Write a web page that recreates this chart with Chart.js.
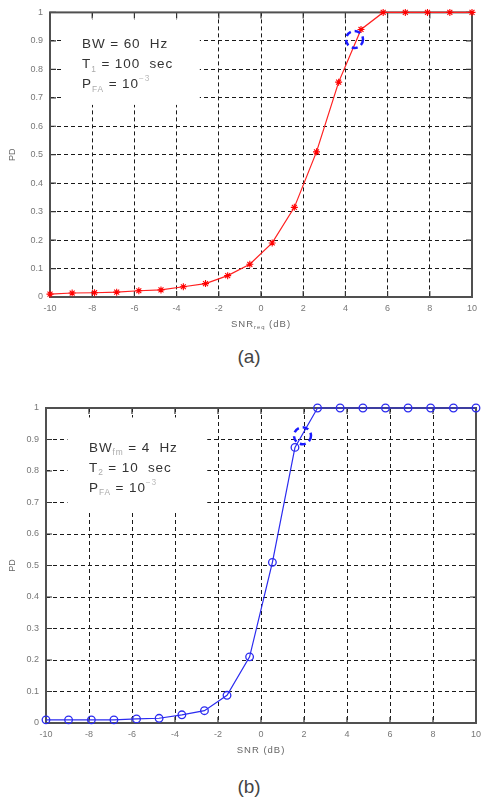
<!DOCTYPE html>
<html><head><meta charset="utf-8">
<script src="https://cdn.jsdelivr.net/npm/chart.js@4.4.0/dist/chart.umd.min.js"></script>
<style>
html,body{margin:0;padding:0;background:#fff;width:490px;height:799px;overflow:hidden;font-family:'Liberation Sans',Arial,sans-serif;}
.wrap{position:absolute;left:0;width:490px;}
#w1{top:0;height:340px}
#w2{top:395px;height:370px}
.cap{position:absolute;width:490px;left:4px;text-align:center;font-size:19px;line-height:22px;color:#444;}
</style></head><body>
<div class="wrap" id="w1"><canvas id="c1" width="490" height="340"></canvas></div>
<div class="wrap" id="w2"><canvas id="c2" width="490" height="370"></canvas></div>
<div class="cap" style="top:346px">(a)</div>
<div class="cap" style="top:776px">(b)</div>
<script>
// ---- data ----
const snrA = [-10, -8.95, -7.89, -6.84, -5.79, -4.74, -3.68, -2.63, -1.58, -0.53, 0.53, 1.58, 2.63, 3.68, 4.74, 5.79, 6.84, 7.89, 8.95, 10];
const pdA  = [0.01, 0.014, 0.015, 0.017, 0.022, 0.025, 0.036, 0.047, 0.075, 0.115, 0.19, 0.315, 0.51, 0.755, 0.94, 1, 1, 1, 1, 1];
const snrB = [-10, -8.95, -7.89, -6.84, -5.79, -4.74, -3.68, -2.63, -1.58, -0.53, 0.53, 1.58, 2.63, 3.68, 4.74, 5.79, 6.84, 7.89, 8.95, 10];
const pdB  = [0.01, 0.01, 0.01, 0.01, 0.013, 0.015, 0.026, 0.039, 0.088, 0.21, 0.51, 0.875, 1, 1, 1, 1, 1, 1, 1, 1];
const xTicks = [-10, -8, -6, -4, -2, 0, 2, 4, 6, 8, 10];
const yTicks = [0, 0.1, 0.2, 0.3, 0.4, 0.5, 0.6, 0.7, 0.8, 0.9, 1];
const markA = [4.43, 0.905];
const markB = [1.93, 0.912];
const boxA = [-9.43, -2.9, 0.675, 0.975];
const boxB = [-9.0, -2.5, 0.675, 0.97];
const noteAtA = [-8.48, 0.888];
const noteAtB = [-8.0, 0.873];
const noteA = [
  [['BW = 60  Hz','n']],
  [['T','n'],['1','sub'],[' = 100  sec','n']],
  [['P','n'],['FA','sub'],[' = 10','n'],['\u22123','sup']]
];
const noteB = [
  [['BW','n'],['fm','sub'],[' = 4  Hz','n']],
  [['T','n'],['2','sub'],[' = 10  sec','n']],
  [['P','n'],['FA','sub'],[' = 10','n'],['\u22123','sup']]
];
const xTitleA = [['SNR','n'],['req','sub'],[' (dB)','n']];
const xTitleB = [['SNR (dB)','n']];

const FAM = '"Liberation Sans", Arial, sans-serif';

function segW(ctx, segs, size, ls){
  let w=0;
  ctx.letterSpacing=ls+'px';
  segs.forEach(([t,k])=>{const fs=(k==='n')?size:size*0.62; ctx.font=fs+'px '+FAM; w+=ctx.measureText(t).width;});
  return w;
}
function rich(ctx, segs, x0, yc, size, color, subCol, supCol, ls){
  let xx=x0;
  ctx.letterSpacing=ls+'px';
  segs.forEach(([t,k])=>{
    let fs=size, dy=0, col=color;
    if(k==='sub'){fs=size*0.62; dy=size*0.38; col=subCol;}
    if(k==='sup'){fs=size*0.62; dy=-size*0.42; col=supCol;}
    ctx.font=fs+'px '+FAM;
    ctx.fillStyle=col; ctx.textBaseline='middle'; ctx.textAlign='left';
    ctx.fillText(t,xx,yc+dy);
    xx+=ctx.measureText(t).width;
  });
}

const decoPlugin = {
  id:'deco',
  beforeDatasetsDraw(chart, args, o){
    const {ctx, chartArea:a, scales:{x,y}} = chart;
    ctx.save();
    const bx1=x.getPixelForValue(o.box[0]), bx2=x.getPixelForValue(o.box[1]);
    const by1=y.getPixelForValue(o.box[3]), by2=y.getPixelForValue(o.box[2]);
    ctx.fillStyle='#fff'; ctx.fillRect(bx1,by1,bx2-bx1,by2-by1);
    ctx.setLineDash([]);
    ctx.strokeStyle='#333'; ctx.lineWidth=1.2;
    ctx.beginPath();
    xTicks.forEach(v=>{const px=x.getPixelForValue(v);
      ctx.moveTo(px,a.top); ctx.lineTo(px,a.top+6);
      ctx.moveTo(px,a.bottom); ctx.lineTo(px,a.bottom-6);});
    yTicks.forEach(v=>{const py=y.getPixelForValue(v);
      ctx.moveTo(a.left,py); ctx.lineTo(a.left+6,py);
      ctx.moveTo(a.right,py); ctx.lineTo(a.right-6,py);});
    ctx.stroke();
    ctx.strokeStyle='#505050'; ctx.lineWidth=2;
    ctx.strokeRect(a.left,a.top,a.right-a.left,a.bottom-a.top);
    const tx=x.getPixelForValue(o.noteAt[0]); let ty=y.getPixelForValue(o.noteAt[1]);
    o.note.forEach(line=>{ rich(ctx,line,tx,ty,13.5,'#333','#aaa','#bbb',0.9); ty+=20; });
    const w=segW(ctx,o.xTitle,9.5,1);
    rich(ctx,o.xTitle,(a.left+a.right)/2-w/2,a.bottom+27,9.5,'#666','#666','#666',1);
    ctx.letterSpacing='0px';
    ctx.restore();
  },
  afterDatasetsDraw(chart, args, o){
    const {ctx, scales:{x,y}} = chart;
    ctx.save();
    ctx.strokeStyle='#1a1aff'; ctx.lineWidth=2.5; ctx.setLineDash([6,4]);
    ctx.beginPath();
    ctx.arc(x.getPixelForValue(o.mark[0]), y.getPixelForValue(o.mark[1]), 8.5, 0, Math.PI*2);
    ctx.stroke();
    ctx.restore();
  }
};

function makeChart(id, xs, ys, style, pad, yW, xH, deco){
  return new Chart(document.getElementById(id), {
    type:'line',
    data:{datasets:[Object.assign({data: xs.map((v,i)=>({x:v,y:ys[i]})), clip:false, tension:0, fill:false}, style)]},
    options:{
      responsive:false, animation:false, events:[],
      layout:{padding:pad},
      plugins:{legend:{display:false}, tooltip:{enabled:false}, deco:deco},
      scales:{
        x:{type:'linear', min:-10, max:10,
          afterBuildTicks:s=>{s.ticks=xTicks.map(v=>({value:v}));},
          grid:{color:'#1a1a1a', lineWidth:1, drawTicks:false},
          border:{display:false, dash:[4,3]},
          ticks:{padding:6, autoSkip:false, maxRotation:0, color:'#777', font:{size:9, family:FAM}, callback:v=>String(v)},
          afterFit:s=>{s.height=xH;}},
        y:{type:'linear', min:0, max:1,
          afterBuildTicks:s=>{s.ticks=yTicks.map(v=>({value:v}));},
          grid:{color:'#1a1a1a', lineWidth:1, drawTicks:false},
          border:{display:false, dash:[4,3]},
          ticks:{padding:7, autoSkip:false, color:'#777', font:{size:9, family:FAM}, callback:v=>(v===0?'0':(v===1?'1':v.toFixed(1)))},
          title:{display:true, text:'PD', color:'#666', font:{size:9, family:FAM}, padding:{top:7,bottom:0}},
          afterFit:s=>{s.width=yW;}}
      }
    },
    plugins:[decoPlugin]
  });
}

makeChart('c1', snrA, pdA,
  {borderColor:'#ff2020', borderWidth:1.2, pointStyle:'star', pointRadius:3.5, pointBorderColor:'#ff0000', pointBorderWidth:1.1, pointBackgroundColor:'rgba(0,0,0,0)'},
  {left:0, right:18, top:11, bottom:0}, 50, 43,
  {box:boxA, noteAt:noteAtA, note:noteA, xTitle:xTitleA, mark:markA});

makeChart('c2', snrB, pdB,
  {borderColor:'#2b2bf0', borderWidth:1.2, pointStyle:'circle', pointRadius:3.8, pointBorderColor:'#2b2bf0', pointBorderWidth:1.3, pointBackgroundColor:'rgba(0,0,0,0)'},
  {left:0, right:14, top:13, bottom:0}, 46, 42,
  {box:boxB, noteAt:noteAtB, note:noteB, xTitle:xTitleB, mark:markB});
</script>
</body></html>
